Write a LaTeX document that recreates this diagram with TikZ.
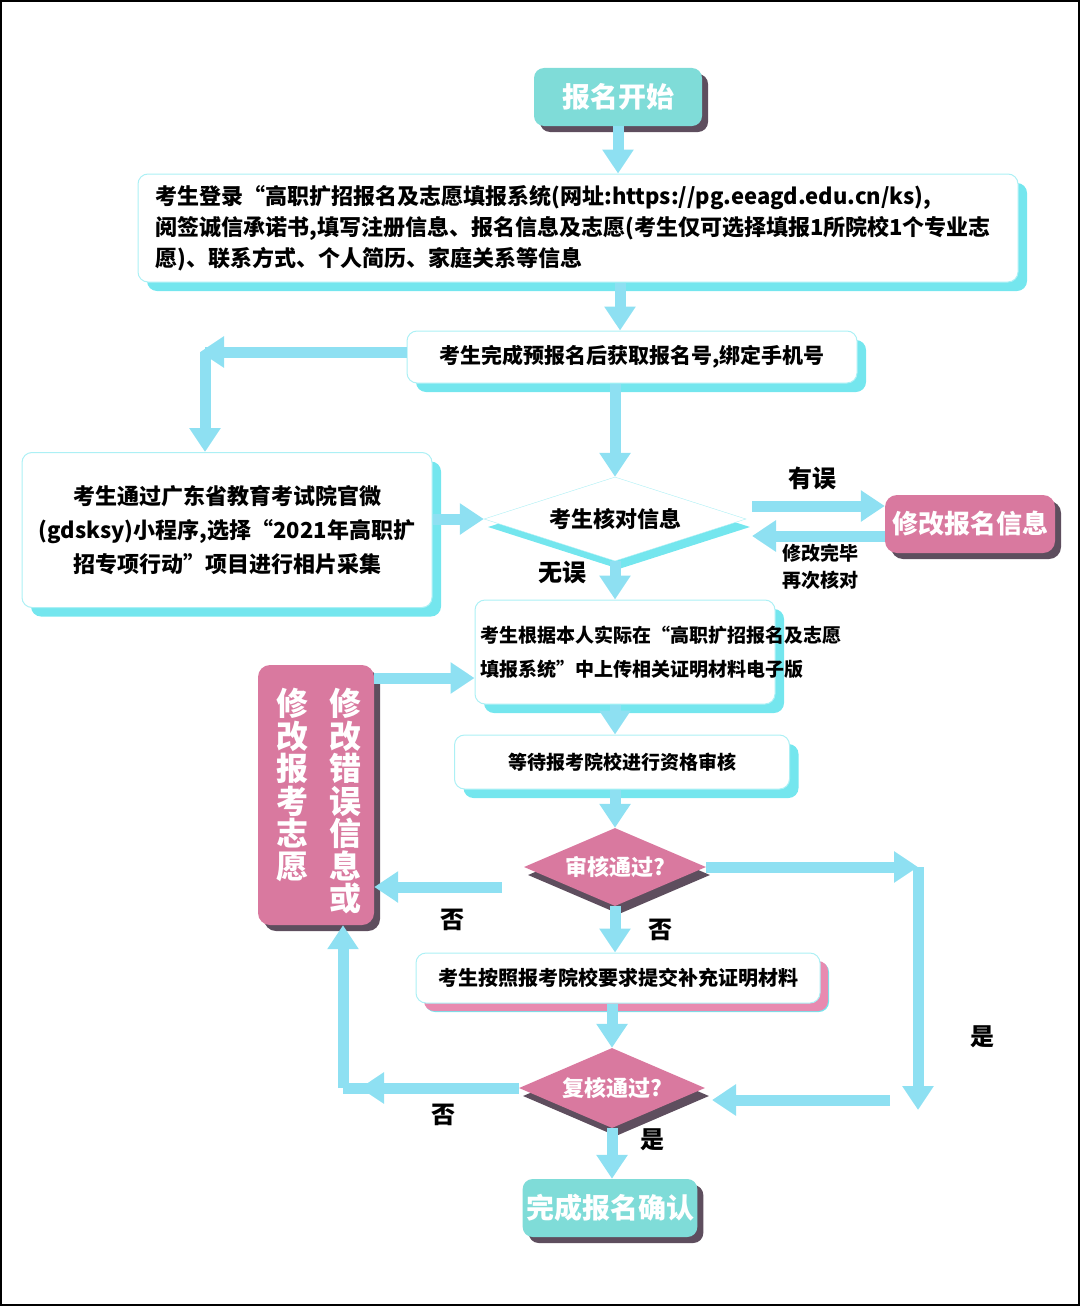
\documentclass[tikz,border=0pt]{standalone}
\usepackage{fontspec}
\setmainfont{Noto Sans CJK SC}
\usetikzlibrary{shapes.geometric,arrows.meta,shadows}
\definecolor{arr}{HTML}{8EE0F2}
\definecolor{cysh}{HTML}{74E6EE}
\definecolor{teal1}{HTML}{7FDCD8}
\definecolor{pink1}{HTML}{D9799F}
\definecolor{pinksh}{HTML}{E88AB0}
\definecolor{greysh}{HTML}{5E4E5E}
\tikzset{
 x=1pt,y=-1pt,
 wbox/.style={draw=cysh!60,line width=1pt,fill=white,rounded corners=10pt,
   drop shadow={shadow xshift=9pt,shadow yshift=-9pt,fill=cysh,opacity=1},font=\bfseries},
 tbox/.style={fill=teal1,rounded corners=10pt,text=white,font=\bfseries\fontsize{28}{32}\selectfont,
   drop shadow={shadow xshift=6pt,shadow yshift=-6pt,fill=greysh,opacity=1}},
 pbox/.style={fill=pink1,rounded corners=12pt,text=white,font=\bfseries,
   drop shadow={shadow xshift=6pt,shadow yshift=-6pt,fill=greysh,opacity=1}},
 wdia/.style={diamond,aspect=3.1,fill=white,draw=cysh!60,inner sep=0pt,font=\bfseries\fontsize{22}{26}\selectfont,
   drop shadow={shadow xshift=4pt,shadow yshift=-8pt,fill=cysh,opacity=1}},
 pdia/.style={diamond,aspect=2.3,fill=pink1,inner sep=0pt,text=white,font=\bfseries\fontsize{22}{26}\selectfont,
   drop shadow={shadow xshift=4pt,shadow yshift=-8pt,fill=greysh,opacity=1}},
 flow/.style={draw=arr,line width=11pt,-{Triangle[length=24pt,width=30pt]}},
 flowline/.style={draw=arr,line width=11pt},
 lab/.style={font=\bfseries\fontsize{24}{28}\selectfont},
 vcol/.style={font=\bfseries\fontsize{32}{32.5}\selectfont,text=white,align=center,text width=36,anchor=north,inner sep=0pt},
}
\begin{document}
\begin{tikzpicture}
\useasboundingbox (0,0) rectangle (1080,1306);
\draw[line width=1.5pt] (1,1) rectangle (1079,1305);

\node[tbox,minimum width=168,minimum height=58] (start) at (618,97) {报名开始};
\node[wbox,minimum width=880,minimum height=108,align=left,text width=845,
  font=\bfseries\fontsize{22}{31}\selectfont] (reg) at (578,228)
  {考生登录“高职扩招报名及志愿填报系统(网址:https://pg.eeagd.edu.cn/ks),\\阅签诚信承诺书,填写注册信息、报名信息及志愿(考生仅可选择填报1所院校1个专业志\\愿)、联系方式、个人简历、家庭关系等信息};
\node[wbox,minimum width=450,minimum height=52,font=\bfseries\fontsize{21}{25}\selectfont] (pre) at (632,357)
  {考生完成预报名后获取报名号,绑定手机号};
\node[wbox,minimum width=410,minimum height=155,align=center,
  font=\bfseries\fontsize{22}{34}\selectfont] (photo) at (227,530)
  {考生通过广东省教育考试院官微\\(gdsksy)小程序,选择“2021年高职扩\\招专项行动”项目进行相片采集};
\node[wdia,minimum width=262,minimum height=84] (chk) at (615,519) {考生核对信息};
\node[pbox,minimum width=170,minimum height=58,font=\bfseries\fontsize{26}{30}\selectfont] (fix) at (970,524) {修改报名信息};
\node[wbox,minimum width=300,minimum height=104,align=left,text width=290,
  font=\bfseries\fontsize{19}{34}\selectfont] (up) at (625,652)
  {考生根据本人实际在“高职扩招报名及志愿\\填报系统”中上传相关证明材料电子版};
\node[pbox,minimum width=116,minimum height=260] (mod) at (316,795) {};
\node[vcol] (modr) at (345,688) {修\\改\\错\\误\\信\\息\\或};
\node[vcol] (modl) at (292,688) {修\\改\\报\\考\\志\\愿};
\node[wbox,minimum width=335,minimum height=54,font=\bfseries\fontsize{19}{23}\selectfont] (wait) at (622,762) {等待报考院校进行资格审核};
\node[pdia,minimum width=182,minimum height=78] (rev) at (615,867) {审核通过?};
\node[wbox,minimum width=404,minimum height=50,font=\bfseries\fontsize{20}{24}\selectfont,
  drop shadow={shadow xshift=8pt,shadow yshift=-8pt,fill=pinksh,opacity=1}] (supp) at (618,978) {考生按照报考院校要求提交补充证明材料};
\node[pdia,minimum width=186,minimum height=80] (rev2) at (612,1088) {复核通过?};
\node[tbox,minimum width=166,minimum height=58] (done) at (610,1208) {完成报名确认};

% connectors
\draw[flow] (start.south) -- (reg.north -| start.south);
\draw[flow] (reg.south -| 620,0) -- (pre.north -| 620,0);
\coordinate (c1) at (205,352);
\draw[flowline] (pre.west |- c1) -- (c1);
\draw[flow] (pre.west |- c1) -- (200,352);
\draw[flow] (c1) -- (photo.north -| c1);
\draw[flow] (pre.south -| chk.north) -- (chk.north);
\draw[flow] (photo.east |- chk.west) -- (chk.west);
\draw[flow] (752,506) -- (fix.west |- 0,506);
\draw[flow] (fix.west |- 0,536) -- (752,536);
\draw[flow] (chk.south) -- (chk.south |- up.north);
\draw[flow] (mod.east |- 0,678) -- (up.west |- 0,678);
\draw[flow] (up.south -| wait.north) ++(-7,0) -- ++(0,30);
\draw[flow] (wait.south -| rev.north) -- (rev.north);
\draw[flow] (502,887) -- (mod.east |- 0,887);
\draw[flow] (rev.south) -- (rev.south |- supp.north);
\coordinate (r1) at (918,867);
\draw[flow] (rev.east) -- (r1);
\coordinate (r2) at (918,1110);
\draw[flow] (r1) -- (r2);
\draw[flow] (890,1100) -- (712,1100);
\draw[flow] (supp.south -| rev2.north) -- (rev2.north);
\coordinate (l1) at (343,1088);
\draw[flowline] (rev2.west) -- (l1);
\draw[flow] (rev2.west) -- (360,1088);
\draw[flow] (l1) -- (mod.south -| l1);
\draw[flow] (rev2.south) -- (rev2.south |- done.north);

% labels
\node[lab] (l_yw) at (812,478) {有误};
\node[font=\bfseries\fontsize{19}{27}\selectfont,align=left] (l_xg) at (820,567) {修改完毕\\再次核对};
\node[lab] (l_ww) at (562,572) {无误};
\node[lab] (l_f1) at (452,920) {否};
\node[lab] (l_f2) at (660,930) {否};
\node[lab] (l_s1) at (982,1037) {是};
\node[lab] (l_f3) at (443,1115) {否};
\node[lab] (l_s2) at (652,1140) {是};
\end{tikzpicture}
\end{document}
